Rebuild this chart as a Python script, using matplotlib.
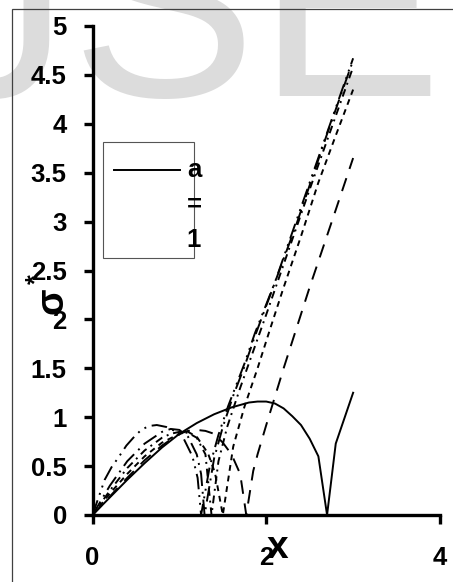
import matplotlib
matplotlib.use("Agg")
import matplotlib.pyplot as plt
from matplotlib.patches import Rectangle
from matplotlib.lines import Line2D

plt.rcParams['font.family'] = ['Liberation Sans', 'DejaVu Sans']

# ---- data ----
x_solid = [0, 0.2, 0.4, 0.6, 0.8, 1.0, 1.2, 1.4, 1.6, 1.8, 1.9, 2.0, 2.1, 2.2, 2.3, 2.4, 2.5, 2.6, 2.7, 2.8, 2.9, 3.0]
y_solid = [0, 0.18, 0.36, 0.53, 0.69, 0.83, 0.94, 1.03, 1.10, 1.15, 1.16, 1.16, 1.14, 1.09, 1.01, 0.92, 0.78, 0.60, 0.0, 0.73, 0.99, 1.25]

x_longdash = [0, 0.2, 0.4, 0.6, 0.8, 1.0, 1.1, 1.2, 1.3, 1.4, 1.5, 1.6, 1.7, 1.77, 1.85, 1.9, 2.0, 2.2, 2.5, 2.8, 3.0]
y_longdash = [0, 0.19, 0.38, 0.56, 0.71, 0.83, 0.86, 0.87, 0.86, 0.83, 0.74, 0.62, 0.42, 0, 0.45, 0.62, 0.92, 1.5, 2.33, 3.12, 3.65]

x_dash = [0, 0.2, 0.4, 0.6, 0.8, 1.0, 1.1, 1.2, 1.33, 1.41, 1.5, 1.62, 1.75, 1.9, 2.04, 2.19, 2.4, 2.6, 2.8, 3.0]
y_dash = [0, 0.22, 0.42, 0.60, 0.74, 0.83, 0.85, 0.80, 0.63, 0.43, 0, 0.70, 1.11, 1.50, 1.89, 2.30, 2.85, 3.40, 3.88, 4.35]

x_dashdot = [0, 0.2, 0.4, 0.6, 0.8, 0.9, 1.0, 1.1, 1.2, 1.3, 1.37, 1.45, 1.55, 1.7, 2.0, 2.5, 3.0]
y_dashdot = [0, 0.25, 0.48, 0.66, 0.79, 0.83, 0.85, 0.84, 0.79, 0.62, 0, 0.55, 0.9, 1.3, 2.05, 3.33, 4.58]

x_longdashdot = [0, 0.2, 0.4, 0.6, 0.8, 0.9, 1.0, 1.1, 1.2, 1.25, 1.29, 1.4, 1.5, 1.62, 1.75, 1.87, 2.08, 2.35, 2.69, 3.0]
y_longdashdot = [0, 0.3, 0.55, 0.73, 0.85, 0.88, 0.87, 0.80, 0.62, 0.42, 0, 0.58, 0.9, 1.22, 1.52, 1.83, 2.33, 2.98, 3.87, 4.65]

x_longdashdotdot = [0, 0.14, 0.22, 0.3, 0.39, 0.47, 0.56, 0.65, 0.74, 0.85, 0.97, 1.05, 1.15, 1.21, 1.25, 1.35, 1.45, 1.56, 1.75, 1.87, 2.1, 2.5, 3.0]
y_longdashdotdot = [0, 0.36, 0.49, 0.59, 0.71, 0.79, 0.87, 0.91, 0.92, 0.90, 0.85, 0.78, 0.6, 0.38, 0, 0.5, 0.82, 1.11, 1.55, 1.86, 2.38, 3.4, 4.67]

x_ticks = [0, 2, 4]
x_ticklabels = ["0", "2", "4"]
y_ticks = [0, 0.5, 1, 1.5, 2, 2.5, 3, 3.5, 4, 4.5, 5]
y_ticklabels = ["0", "0.5", "1", "1.5", "2", "2.5", "3", "3.5", "4", "4.5", "5"]
legend_label = ["a", "=", "1"]
watermark = ["J", "S", "E"]

W, H = 453, 582
fig = plt.figure(figsize=(W / 100, H / 100), dpi=100)

def fx(px):
    return px / W

def fy(py):
    return 1 - py / H

# watermark (behind everything)
wm_color = '#dcdcdc'
for ch, px in zip(watermark, [-69, 70, 256]):
    fig.text(fx(px), fy(96), ch, fontsize=200, color=wm_color, ha='left', va='baseline', zorder=-5)

# outer frame
fig.patches.append(Rectangle((fx(12), -0.1), 1.2, fy(9) + 0.1, transform=fig.transFigure,
                             fill=False, edgecolor='#404040', linewidth=0.9, zorder=1))

ax = fig.add_axes([fx(92.5), fy(515), (440 - 92.5) / W, (515 - 26) / H])
ax.patch.set_alpha(0)

lw = 1.4
ax.plot(x_solid, y_solid, color='black', lw=lw, linestyle='-')
ax.plot(x_longdash, y_longdash, color='black', lw=lw, linestyle=(0, (7, 5)))
ax.plot(x_dash, y_dash, color='black', lw=lw, linestyle=(0, (3, 2.5)))
ax.plot(x_dashdot, y_dashdot, color='black', lw=lw, linestyle=(0, (4, 2.5, 1, 2.5)))
ax.plot(x_longdashdot, y_longdashdot, color='black', lw=lw, linestyle=(0, (8, 3, 1, 3)))
ax.plot(x_longdashdotdot, y_longdashdotdot, color='black', lw=lw, linestyle=(0, (8, 3, 1, 3, 1, 3)))

ax.set_xlim(0, 4)
ax.set_ylim(0, 5)
for s in ['top', 'right']:
    ax.spines[s].set_visible(False)
for s in ['left', 'bottom']:
    ax.spines[s].set_linewidth(2.4)
ax.set_xticks(x_ticks)
ax.set_xticklabels(x_ticklabels, fontsize=18.5, fontweight='bold')
ax.set_yticks(y_ticks)
ax.set_yticklabels(y_ticklabels, fontsize=18.5, fontweight='bold')
ax.tick_params(axis='both', direction='out', length=6.5, width=2.4)
ax.tick_params(axis='y', pad=12)
ax.tick_params(axis='x', pad=16)

# axis titles
fig.text(fx(278), fy(548), "x", fontsize=28, fontweight='bold', ha='center', va='center')
fig.text(fx(52), fy(301), "σ", fontsize=28, fontweight='bold', rotation=90, ha='center', va='center')
fig.text(fx(36), fy(279), "*", fontsize=18, fontweight='bold', rotation=90, ha='center', va='center')

# legend
fig.patches.append(Rectangle((fx(103), fy(258)), (194 - 103) / W, (258 - 142) / H,
                             transform=fig.transFigure, fill=True, facecolor='white',
                             edgecolor='#555555', linewidth=0.8, zorder=5))
fig.lines.append(Line2D([fx(114), fx(180)], [fy(170), fy(170)], transform=fig.transFigure,
                        color='black', lw=lw, zorder=6))
for lab, py in zip(legend_label, [170, 205, 240]):
    fig.text(fx(194), fy(py), lab, fontsize=18.5, fontweight='bold', ha='center', va='center', zorder=7)

fig.savefig("out.png", dpi=100)
